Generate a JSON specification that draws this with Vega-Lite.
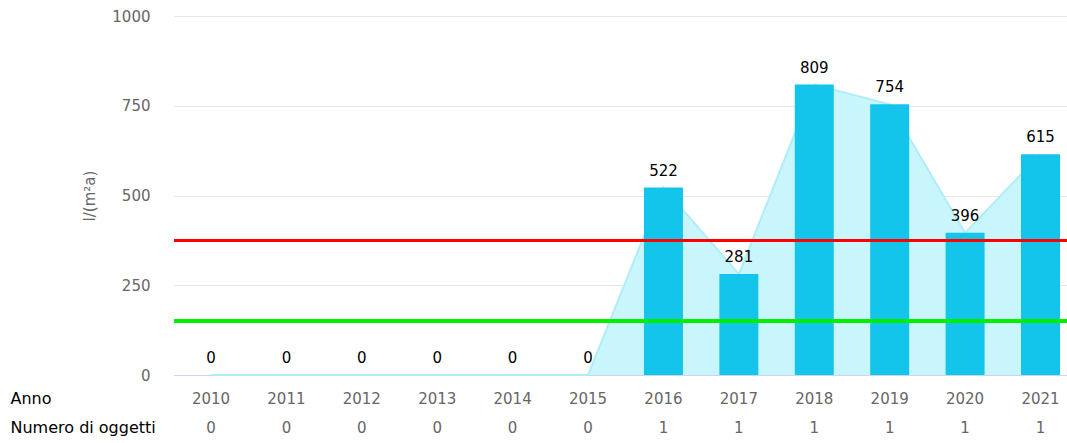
{
  "$schema": "https://vega.github.io/schema/vega-lite/v6.json",
  "padding": {"left": 10, "top": 9, "right": 0, "bottom": 0},
  "config": {"view": {"stroke": null}, "font": "DejaVu Sans", "concat": {"spacing": 1}},
  "data": {"values": [
    {"Anno": "2010", "valore": 0, "Numero di oggetti": 0},
    {"Anno": "2011", "valore": 0, "Numero di oggetti": 0},
    {"Anno": "2012", "valore": 0, "Numero di oggetti": 0},
    {"Anno": "2013", "valore": 0, "Numero di oggetti": 0},
    {"Anno": "2014", "valore": 0, "Numero di oggetti": 0},
    {"Anno": "2015", "valore": 0, "Numero di oggetti": 0},
    {"Anno": "2016", "valore": 522, "Numero di oggetti": 1},
    {"Anno": "2017", "valore": 281, "Numero di oggetti": 1},
    {"Anno": "2018", "valore": 809, "Numero di oggetti": 1},
    {"Anno": "2019", "valore": 754, "Numero di oggetti": 1},
    {"Anno": "2020", "valore": 396, "Numero di oggetti": 1},
    {"Anno": "2021", "valore": 615, "Numero di oggetti": 1}
  ]},
  "vconcat": [
    {
      "width": 893,
      "height": 359,
      "encoding": {
        "x": {"field": "Anno", "type": "ordinal", "sort": null,
          "scale": {"type": "band", "paddingInner": 0.483, "paddingOuter": 0.1625, "align": 0.714},
          "axis": {"labels": false, "ticks": false, "title": null, "grid": false, "domainColor": "#ccd6eb"}}
      },
      "layer": [
        {
          "mark": {"type": "area", "color": "#c9f6fd", "opacity": 1, "line": {"color": "#aeedf9", "strokeWidth": 2}},
          "encoding": {
            "y": {"field": "valore", "type": "quantitative",
              "scale": {"domain": [0, 1000], "nice": false},
              "axis": {"title": "l/(m²a)", "values": [0, 250, 500, 750, 1000], "format": "d", "gridColor": "#e6e6e6",
                "domain": false, "ticks": false, "labelPadding": 24, "labelFontSize": 15, "labelColor": "#666666",
                "titleColor": "#666666", "titleFontWeight": "normal", "titleFontSize": 15, "titlePadding": 14}}
          }
        },
        {
          "mark": {"type": "bar", "color": "#13c4eb"},
          "encoding": {"y": {"field": "valore", "type": "quantitative"}}
        },
        {
          "mark": {"type": "text", "baseline": "bottom", "dy": -9, "fontSize": 15, "color": "#000000"},
          "encoding": {"y": {"field": "valore", "type": "quantitative"}, "text": {"field": "valore", "type": "quantitative"}}
        },
        {
          "mark": {"type": "rule", "color": "#ff0000", "strokeWidth": 3},
          "encoding": {"y": {"datum": 375}, "x": null}
        },
        {
          "mark": {"type": "rule", "color": "#00ee00", "strokeWidth": 3},
          "encoding": {"y": {"datum": 150}, "x": null}
        }
      ]
    },
    {
      "width": 893,
      "height": 58,
      "transform": [{"fold": ["Anno", "Numero di oggetti"], "as": ["riga", "testo"]}],
      "mark": {"type": "text", "fontSize": 15, "color": "#666666"},
      "encoding": {
        "x": {"field": "Anno", "type": "ordinal", "sort": null,
          "scale": {"type": "band", "paddingInner": 0.483, "paddingOuter": 0.1625, "align": 0.714},
          "axis": null},
        "y": {"field": "riga", "type": "nominal", "sort": ["Anno", "Numero di oggetti"],
          "axis": {"title": null, "domain": false, "ticks": false, "grid": false, "labelAlign": "left",
            "labelPadding": 164, "labelFontSize": 16, "labelColor": "#000000"}},
        "text": {"field": "testo", "type": "nominal"}
      }
    }
  ]
}
